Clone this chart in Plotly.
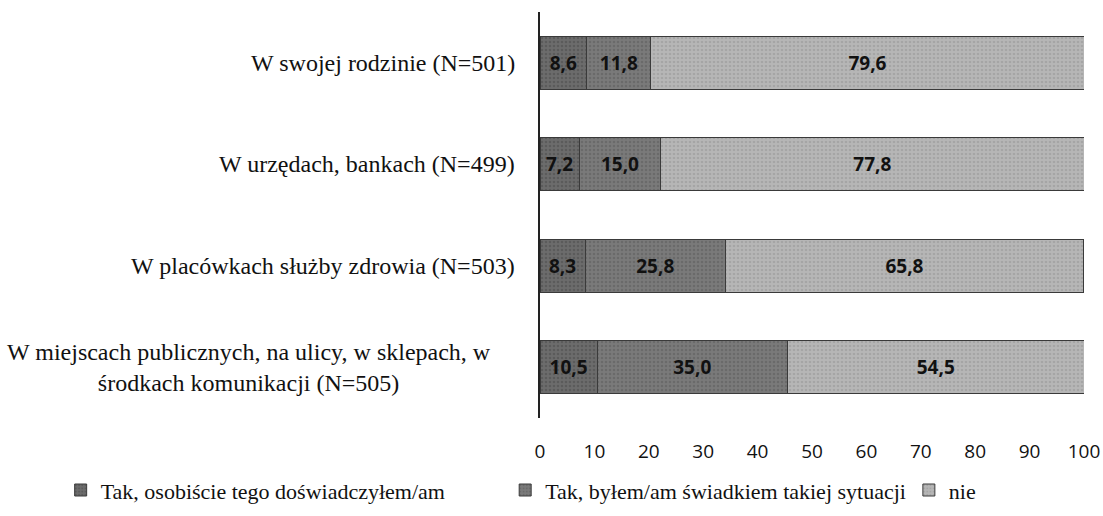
import plotly.graph_objects as go

# Survey places (bottom to top as drawn) and shares of answers, in percent
categories = [
    "W miejscach publicznych, na ulicy, w sklepach, w<br>środkach komunikacji (N=505)",
    "W placówkach służby zdrowia (N=503)",
    "W urzędach, bankach (N=499)",
    "W swojej rodzinie (N=501)",
]
series_names = [
    "Tak, osobiście tego doświadczyłem/am",
    "Tak, byłem/am świadkiem takiej sytuacji",
    "nie",
]
personally = [10.5, 8.3, 7.2, 8.6]
witnessed = [35.0, 25.8, 15.0, 11.8]
no_answer = [54.5, 65.8, 77.8, 79.6]
x_ticks = [0, 10, 20, 30, 40, 50, 60, 70, 80, 90, 100]

values = [personally, witnessed, no_answer]
fill_bg = ["#6c6c6c", "#7a7a7a", "#b6b6b6"]
fill_fg = ["#4a4a4a", "#5a5a5a", "#949494"]
legend_ids = ["legend", "legend2", "legend3"]
legend_x = [0.055, 0.458, 0.824]

serif = "Liberation Serif, Times New Roman, serif"
sans = "Open Sans, sans-serif"

fig = go.Figure()
for name, vals, bg, fg, lg in zip(series_names, values, fill_bg, fill_fg, legend_ids):
    fig.add_trace(go.Bar(
        y=list(range(len(categories))),
        x=vals,
        name=name,
        legend=lg,
        orientation="h",
        width=0.52,
        marker=dict(
            color=bg,
            line=dict(color="#3a3a3a", width=1),
            pattern=dict(shape=".", bgcolor=bg, fgcolor=fg, size=4, solidity=0.35),
        ),
        text=[f"{v:.1f}".replace(".", ",") for v in vals],
        textposition="inside",
        insidetextanchor="middle",
        textfont=dict(family=sans, size=19, color="#111111", weight="bold"),
        constraintext="none",
    ))

# Category labels to the left of the axis, each line centred
label_shift = [-47, -23, -23, -23]
for i, (cat, shift) in enumerate(zip(categories, label_shift)):
    fig.add_annotation(
        x=0, xref="paper", xanchor="right", xshift=shift,
        y=i, yref="y", yanchor="middle",
        text=cat, showarrow=False, align="center",
        font=dict(family=serif, size=24, color="#111111"),
    )

legend_style = dict(
    orientation="h", xref="container", yref="container",
    xanchor="left", y=0.05, yanchor="middle",
    font=dict(family=serif, size=22, color="#111111"),
    itemwidth=30, bgcolor="rgba(0,0,0,0)",
)

fig.update_layout(
    barmode="stack",
    width=1103, height=516,
    margin=dict(l=540, r=19, t=12, b=98, autoexpand=False),
    plot_bgcolor="white", paper_bgcolor="white",
    showlegend=True,
    legend=dict(legend_style, x=legend_x[0]),
    legend2=dict(legend_style, x=legend_x[1]),
    legend3=dict(legend_style, x=legend_x[2]),
    xaxis=dict(
        range=[0, 100], tickvals=x_ticks, ticktext=[str(t) for t in x_ticks],
        showgrid=False, zeroline=False, showline=False, automargin=False,
        ticks="outside", ticklen=16, tickcolor="rgba(0,0,0,0)",
        tickfont=dict(family=sans, size=19, color="#111111"),
    ),
    yaxis=dict(
        range=[-0.5, 3.5], showticklabels=False, showgrid=False, zeroline=False,
        showline=True, linecolor="#222222", linewidth=1.5, ticks="",
    ),
)

fig.write_html("out.html")
